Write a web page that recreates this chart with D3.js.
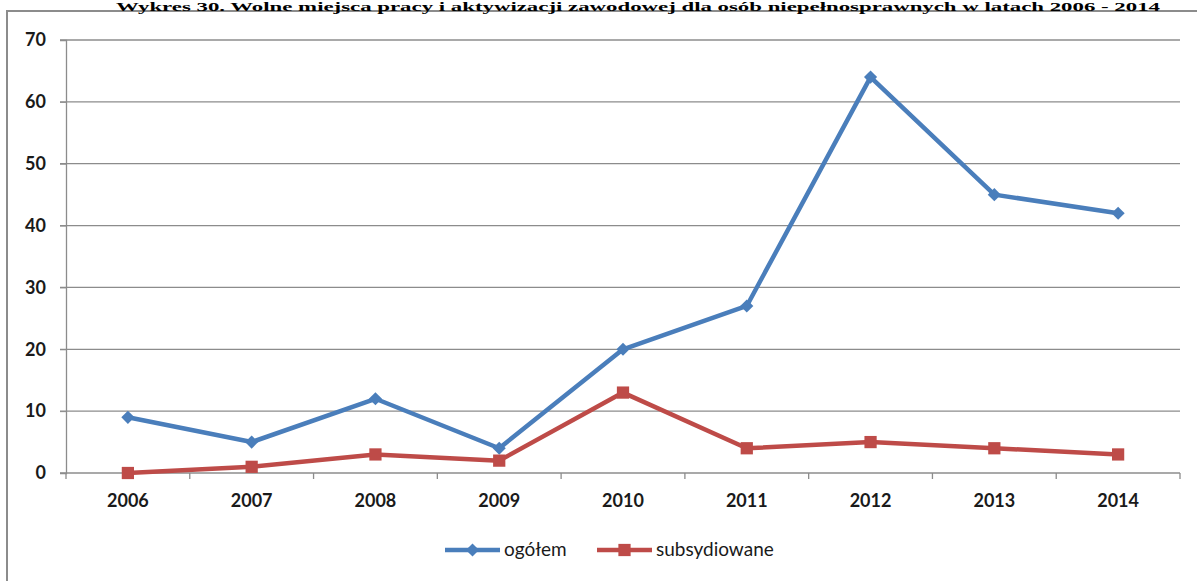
<!DOCTYPE html>
<html>
<head>
<meta charset="utf-8">
<script src="https://cdn.jsdelivr.net/npm/d3@7"></script>
<style>
  body { margin: 0; background: #fff; }
  svg { display: block; }
</style>
</head>
<body>
<script>
var svg_width  = 1197;
var svg_height = 581;

// data
var years = ["2006", "2007", "2008", "2009", "2010", "2011", "2012", "2013", "2014"];
var ogolem = [9, 5, 12, 4, 20, 27, 64, 45, 42];
var subsydiowane = [0, 1, 3, 2, 13, 4, 5, 4, 3];
var yTicks = [0, 10, 20, 30, 40, 50, 60, 70];
var seriesNames = ["ogółem", "subsydiowane"];
var seriesColors = ["#4A7EBB", "#BE4B48"];

var title = "Wykres 30. Wolne miejsca pracy i aktywizacji zawodowej dla osób niepełnosprawnych w latach 2006 - 2014";

var margin = {left: 66, right: 17, top: 40, bottom: 108};

var svg = d3.select('body').append('svg')
            .attr('width', svg_width)
            .attr('height', svg_height);

// outer frame (runs off the right and bottom edge)
svg.append("rect")
   .attr("x", 7).attr("y", 11)
   .attr("width", svg_width + 10).attr("height", svg_height + 10)
   .attr("fill", "none")
   .attr("stroke", "#8c8c8c")
   .attr("stroke-width", 2);

// title sits right on the frame line
svg.append("text")
   .attr("x", 116).attr("y", 10.5)
   .attr("textLength", 1044)
   .attr("lengthAdjust", "spacingAndGlyphs")
   .style("font-family", "Liberation Serif")
   .style("font-weight", "bold")
   .style("font-size", "12px")
   .text(title);

var x = d3.scaleBand()
          .domain(years)
          .range([margin.left, svg_width - margin.right]);

var y = d3.scaleLinear()
          .domain([0, 70])
          .range([svg_height - margin.bottom, margin.top]);

// gridlines
svg.append("g")
   .selectAll("line")
   .data(yTicks)
   .enter().append("line")
   .attr("x1", margin.left - 6)
   .attr("x2", svg_width - margin.right)
   .attr("y1", d => y(d))
   .attr("y2", d => y(d))
   .attr("stroke", "#8c8c8c")
   .attr("stroke-width", 1.3);

// y axis
var yAxis = svg.append("g")
   .attr("transform", "translate(" + margin.left + ",0)")
   .call(d3.axisLeft(y).tickValues(yTicks).tickSize(6).tickPadding(14));
yAxis.select(".domain").attr("stroke", "#8c8c8c").attr("stroke-width", 1.3);
yAxis.selectAll(".tick line").attr("stroke", "#8c8c8c");

// x axis, ticks between categories
var boundaries = years.map(d => x(d)).concat([x.range()[1]]);
var xAxis = svg.append("g")
   .attr("transform", "translate(0," + y(0) + ")");
xAxis.selectAll("line.tk")
   .data(boundaries)
   .enter().append("line")
   .attr("class", "tk")
   .attr("x1", d => d).attr("x2", d => d)
   .attr("y1", 0).attr("y2", 6)
   .attr("stroke", "#8c8c8c")
   .attr("stroke-width", 1.3);
xAxis.selectAll("text")
   .data(years)
   .enter().append("text")
   .attr("x", d => x(d) + x.bandwidth() / 2)
   .attr("y", 34)
   .attr("text-anchor", "middle")
   .text(d => d);

svg.selectAll("g text")
   .style("font-family", "Lato, 'Open Sans', sans-serif")
   .style("font-size", "18px")
   .style("font-weight", "bold")
   .attr("fill", "#1a1a1a");

var line = d3.line()
             .x((d, i) => x(years[i]) + x.bandwidth() / 2)
             .y(d => y(d));

var allSeries = [ogolem, subsydiowane];

allSeries.forEach(function(vals, s) {
    svg.append("path")
       .datum(vals)
       .attr("d", line)
       .attr("fill", "none")
       .attr("stroke", seriesColors[s])
       .attr("stroke-width", 4.5)
       .attr("stroke-linejoin", "round");
});

var diamond = d3.symbol().type(d3.symbolDiamond2).size(110);
var square = d3.symbol().type(d3.symbolSquare).size(150);

svg.append("g").selectAll("path")
   .data(ogolem)
   .enter().append("path")
   .attr("d", diamond)
   .attr("transform", (d, i) => "translate(" + (x(years[i]) + x.bandwidth() / 2) + "," + y(d) + ")")
   .attr("fill", seriesColors[0]);

svg.append("g").selectAll("path")
   .data(subsydiowane)
   .enter().append("path")
   .attr("d", square)
   .attr("transform", (d, i) => "translate(" + (x(years[i]) + x.bandwidth() / 2) + "," + y(d) + ")")
   .attr("fill", seriesColors[1]);

// legend
var legendX = [445, 597];
var legendY = 550;
var legend = svg.append("g");
seriesNames.forEach(function(name, s) {
    var lx = legendX[s];
    legend.append("line")
          .attr("x1", lx).attr("x2", lx + 55)
          .attr("y1", legendY).attr("y2", legendY)
          .attr("stroke", seriesColors[s])
          .attr("stroke-width", 4.5);
    legend.append("path")
          .attr("d", s == 0 ? diamond : square)
          .attr("transform", "translate(" + (lx + 27.5) + "," + legendY + ")")
          .attr("fill", seriesColors[s]);
    legend.append("text")
          .attr("x", lx + 59)
          .attr("y", legendY + 6)
          .style("font-family", "Lato, 'Open Sans', sans-serif")
          .style("font-size", "19px")
          .attr("fill", "#1a1a1a")
          .text(name);
});
</script>
</body>
</html>
